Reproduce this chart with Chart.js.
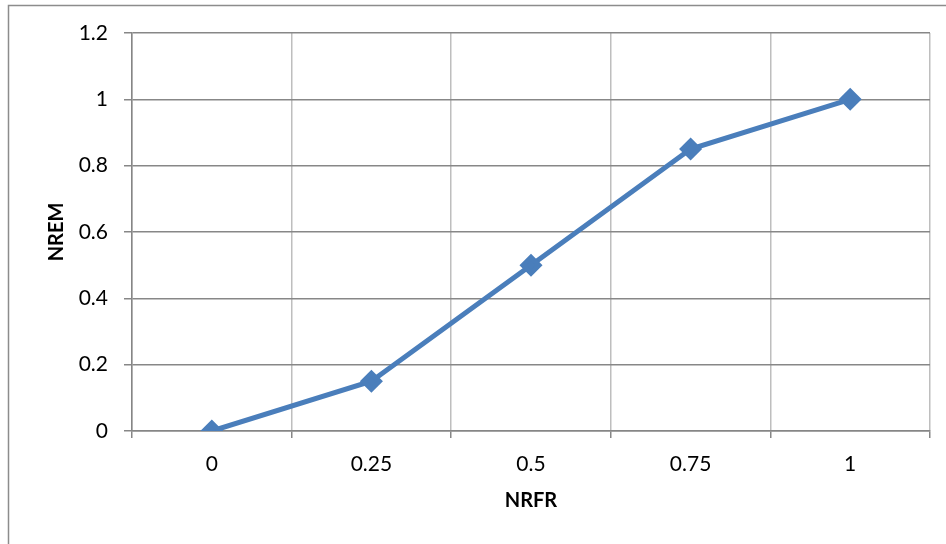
<!DOCTYPE html>
<html>
<head>
<meta charset="utf-8">
<script src="https://cdn.jsdelivr.net/npm/chart.js@4"></script>
<style>
  html, body { margin: 0; padding: 0; background: #fff; }
  #wrap { width: 946px; height: 544px; }
</style>
</head>
<body>
<div id="wrap"><canvas id="myChart" width="946" height="544"></canvas></div>
<script>
var categories = ['0', '0.25', '0.5', '0.75', '1'];
var nremValues = [0, 0.15, 0.5, 0.85, 1];
var yTicks = [0, 0.2, 0.4, 0.6, 0.8, 1, 1.2];

// outer frame of the chart area (runs off the right/bottom edge)
var frame = {
    id: 'frame',
    beforeDraw: function (chart) {
        var c = chart.ctx;
        c.save();
        c.strokeStyle = '#8c8c8c';
        c.lineWidth = 1.5;
        c.strokeRect(8.5, 5.5, 1000, 1000);
        c.restore();
    }
};

Chart.defaults.font.family = 'Lato, "Liberation Sans", sans-serif';
Chart.defaults.font.size = 21;
Chart.defaults.color = '#000';

var ctx = document.getElementById('myChart').getContext('2d');
var myChart = new Chart(ctx, {
    type: 'line',
    data: {
        labels: categories,
        datasets: [{
            label: 'NREM',
            data: nremValues,
            borderColor: '#4a7ebb',
            backgroundColor: '#4a7ebb',
            borderWidth: 5,
            pointStyle: 'rectRot',
            pointRadius: 8,
            pointHoverRadius: 8,
            tension: 0
        }]
    },
    options: {
        responsive: false,
        animation: false,
        layout: { padding: { top: 33, right: 16, left: 0, bottom: 0 } },
        plugins: { legend: { display: false }, tooltip: { enabled: false } },
        scales: {
            x: {
                offset: true,
                grid: { offset: true, color: '#bebebe', lineWidth: 1.5, tickLength: 7, tickColor: '#868686' },
                border: { color: '#868686', width: 1.5 },
                ticks: { padding: 14 },
                title: { display: true, text: 'NRFR', font: { weight: 'bold', size: 20 }, padding: { top: 0, bottom: 31 } },
                afterFit: function (scale) { scale.height = 113; }
            },
            y: {
                min: 0,
                max: 1.2,
                afterBuildTicks: function (scale) {
                    scale.ticks = yTicks.map(function (v) { return { value: v }; });
                },
                ticks: {
                    padding: 16,
                    callback: function (v) { return String(Math.round(v * 10) / 10); }
                },
                grid: { color: '#878787', lineWidth: 1.5, tickLength: 8 },
                border: { color: '#868686', width: 1.5 },
                title: { display: true, text: 'NREM', font: { weight: 'bold', size: 20 }, padding: { top: 45, bottom: 0 } },
                afterFit: function (scale) { scale.width = 132; }
            }
        }
    },
    plugins: [frame]
});
</script>
</body>
</html>
